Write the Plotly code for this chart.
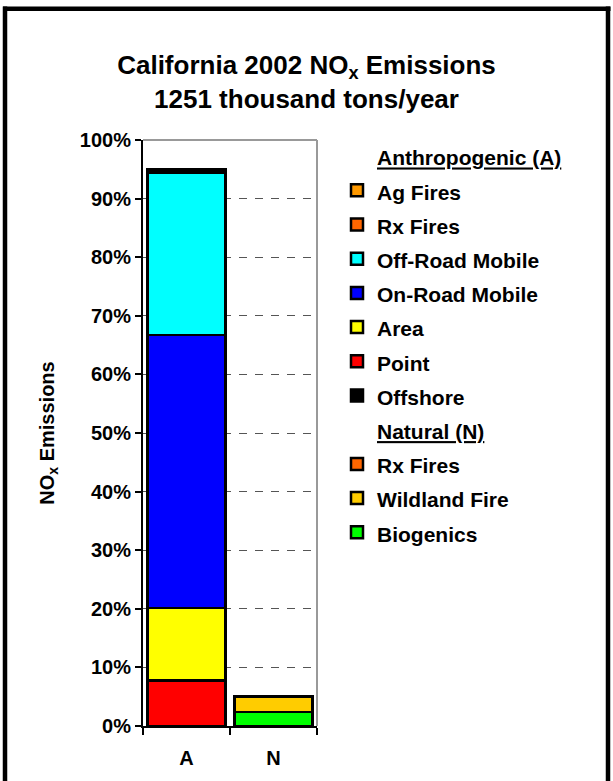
import plotly.graph_objects as go

# ---- data (percent of total NOx) ----
categories = ["A", "N"]

point = [7.8, None]
area = [12.3, None]
on_road = [46.6, None]
off_road = [27.7, None]
offshore = [0.6, None]
ag_fires = [0.0, None]
rx_fires_a = [0.0, None]
biogenics = [None, 2.4]
wildland = [None, 2.6]
rx_fires_n = [None, 0.0]

ytick_vals = [0, 10, 20, 30, 40, 50, 60, 70, 80, 90, 100]
ytick_text = ["0%", "10%", "20%", "30%", "40%", "50%", "60%", "70%", "80%", "90%", "100%"]

# stacking order (bottom -> top), legend rank, colour
series = [
    ("Point", point, "#FF0000", 7),
    ("Area", area, "#FFFF00", 6),
    ("On-Road Mobile", on_road, "#0000FF", 5),
    ("Off-Road Mobile", off_road, "#00FFFF", 4),
    ("Offshore", offshore, "#000000", 8),
    ("Ag Fires", ag_fires, "#FF9900", 2),
    ("Rx Fires", rx_fires_a, "#FF6600", 3),
    ("Biogenics", biogenics, "#00FF00", 12),
    ("Wildland Fire", wildland, "#FFCC00", 11),
    ("Rx Fires", rx_fires_n, "#FF6600", 10),
]
headers = [("Anthropogenic (A)", 1), ("Natural (N)", 9)]

FONT = "Liberation Sans, Arial, Helvetica, sans-serif"

fig = go.Figure()
for name, vals, color, rank in series:
    fig.add_trace(go.Bar(
        x=categories, y=vals,
        name='<span style="font-size:21px">%s</span>' % name,
        marker=dict(color=color, line=dict(color="#000000", width=2.5)),
        legendrank=rank, hoverinfo="skip",
    ))
for name, rank in headers:
    fig.add_trace(go.Bar(
        x=categories[:1], y=[0],
        name='<span style="font-size:21px"><u>%s</u></span>' % name,
        marker=dict(color="rgba(0,0,0,0)", line=dict(width=0)),
        legendrank=rank, hoverinfo="skip",
    ))

# plot-area geometry helpers (paper coords)
L, R, T, B, W, H = 143, 296, 140, 55, 613, 781
pw, ph = W - L - R, H - T - B
def px2x(px):
    return (px - L) / pw
def py2y(py):
    return (H - B - py) / ph

shapes = [
    # grey plot border top / right
    dict(type="line", xref="paper", yref="paper", x0=0, x1=1, y0=1, y1=1,
         line=dict(color="#999999", width=2), layer="above"),
    dict(type="line", xref="paper", yref="paper", x0=1, x1=1, y0=0, y1=1,
         line=dict(color="#999999", width=2), layer="above"),
    # outer black frame (left, top, right)
    dict(type="line", xref="paper", yref="paper", x0=px2x(5), x1=px2x(5),
         y0=py2y(800), y1=py2y(6.5), line=dict(color="#000000", width=4.5)),
    dict(type="line", xref="paper", yref="paper", x0=px2x(3), x1=px2x(610.5),
         y0=py2y(8.7), y1=py2y(8.7), line=dict(color="#000000", width=4.5)),
    dict(type="line", xref="paper", yref="paper", x0=px2x(608), x1=px2x(608),
         y0=py2y(800), y1=py2y(6.5), line=dict(color="#000000", width=4.5)),
]

fig.update_layout(
    width=W, height=H,
    margin=dict(l=L, r=R, t=T, b=B, autoexpand=False),
    paper_bgcolor="white", plot_bgcolor="white",
    font=dict(family=FONT, size=20, color="#000000", weight="bold"),
    barmode="stack", bargap=0.1,
    title=dict(
        text="California 2002 NO<sub>x</sub> Emissions<br>1251 thousand tons/year",
        x=0.5, xref="container", xanchor="center",
        y=1 - 74 / H, yref="container", yanchor="top",
        font=dict(size=26, family=FONT, weight="bold"),
    ),
    showlegend=True,
    legend=dict(
        x=px2x(337), xanchor="left", y=py2y(134), yanchor="top",
        traceorder="normal", font=dict(size=24, family=FONT, weight="bold"),
        bgcolor="rgba(0,0,0,0)", borderwidth=0, itemclick=False,
        maxheight=700, itemwidth=30,
    ),
    xaxis=dict(
        type="category", range=[-0.5, 1.5],
        showline=True, linecolor="#000000", linewidth=2,
        ticks="outside", tickson="boundaries", ticklen=7, tickwidth=1.5,
        tickcolor="#000000", showgrid=False, ticklabelstandoff=13,
        tickfont=dict(size=20, family=FONT, weight="bold"),
    ),
    yaxis=dict(
        range=[0, 100], tickmode="array", tickvals=ytick_vals, ticktext=ytick_text,
        showline=True, linecolor="#000000", linewidth=2,
        ticks="outside", ticklen=6, tickwidth=1.5, tickcolor="#000000",
        showgrid=True, gridcolor="#555555", gridwidth=1, griddash="8px,8px",
        zeroline=False,
        tickfont=dict(size=20, family=FONT, weight="bold"),
        title=dict(text="NO<sub>x</sub> Emissions", standoff=20,
                   font=dict(size=20, family=FONT, weight="bold")),
    ),
    shapes=shapes,
)

fig.write_html("out.html", config={"displayModeBar": False},
               post_script="document.body.style.margin='0';")
